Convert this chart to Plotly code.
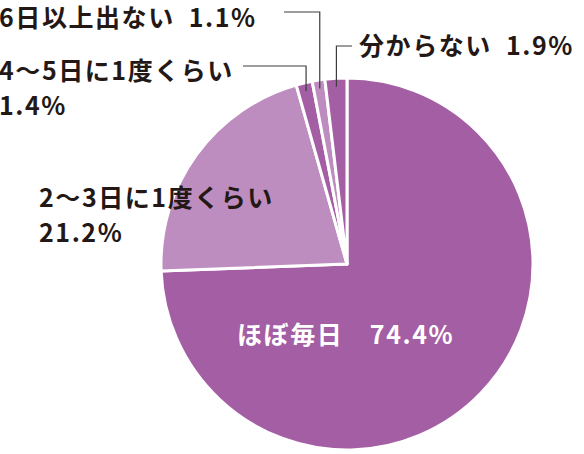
import math

import plotly.graph_objects as go

# 回答カテゴリと割合(%)
labels = ["ほぼ毎日", "2〜3日に1度くらい", "4〜5日に1度くらい", "6日以上出ない", "分からない"]
values = [74.4, 21.2, 1.4, 1.1, 1.9]
slice_colors = ["#A45EA4", "#BE8DBF", "#A45EA4", "#BE8DBF", "#A45EA4"]

W, H = 584, 454
CX, CY, R = 347, 264, 186  # pie centre / radius in pixels
FONT = "Noto Sans CJK JP, Noto Sans CJK SC, sans-serif"
INK = "#231815"


def px(x):
    return x / W


def py(y):
    return 1 - y / H


fig = go.Figure(go.Pie(
    labels=labels,
    values=values,
    sort=False,
    direction="clockwise",
    rotation=0,
    marker=dict(colors=slice_colors, line=dict(color="white", width=3)),
    textinfo="none",
    hoverinfo="label+percent",
    showlegend=False,
    domain=dict(x=[px(CX - R), px(CX + R)], y=[py(CY + R), py(CY - R)]),
))


def fmt(v):
    return f"{v:.1f}%"


def track(s):
    # loose letter spacing like the original typesetting
    return "\u200a".join(s)


# label layout: (text lines, x, y of first line centre, colour)
label_pos = {
    0: ([f"{labels[0]}\u3000{fmt(values[0])}"], 238, 333, "white"),
    1: ([labels[1], fmt(values[1])], 40, 196, INK),
    2: ([labels[2], fmt(values[2])], 0, 69, INK),
    3: ([f"{labels[3]}\u2002{fmt(values[3])}"], 0, 16, INK),
    4: ([f"{labels[4]}\u2002{fmt(values[4])}"], 360, 44, INK),
}
annotations = []
for i, (lines, x, y, col) in label_pos.items():
    for k, line in enumerate(lines):
        annotations.append(dict(
            x=px(x), y=py(y + k * 35), xref="paper", yref="paper",
            text=track(line), showarrow=False, xanchor="left", yanchor="middle",
            xshift=-2, borderpad=0,
            font=dict(family=FONT, size=25, color=col, weight="bold"),
        ))

# leader lines for the thin slices: (label line y, end x of horizontal stub)
leaders = {2: (66, 243), 3: (12, 284), 4: (46, 352)}
total = sum(values)
cum = 0
shapes = []
for i, v in enumerate(values):
    theta = 2 * math.pi * (cum + v / 2) / total
    cum += v
    if i not in leaders:
        continue
    ly, lx = leaders[i]
    ax = CX + 0.955 * R * math.sin(theta)
    ay = CY - 0.955 * R * math.cos(theta)
    path = (f"M {px(ax)},{py(ay)} L {px(ax)},{py(ly)} L {px(lx)},{py(ly)}")
    shapes.append(dict(type="path", xref="paper", yref="paper", path=path,
                       line=dict(color="#3C3C3C", width=1.2)))

fig.update_layout(
    width=W, height=H,
    margin=dict(l=0, r=0, t=0, b=0),
    paper_bgcolor="white",
    annotations=annotations,
    shapes=shapes,
)
# page body has an 8px default margin; drop it so the figure sits at 0,0
fig.write_html("out.html", config={"displayModeBar": False},
               post_script="document.body.style.margin='0';")
